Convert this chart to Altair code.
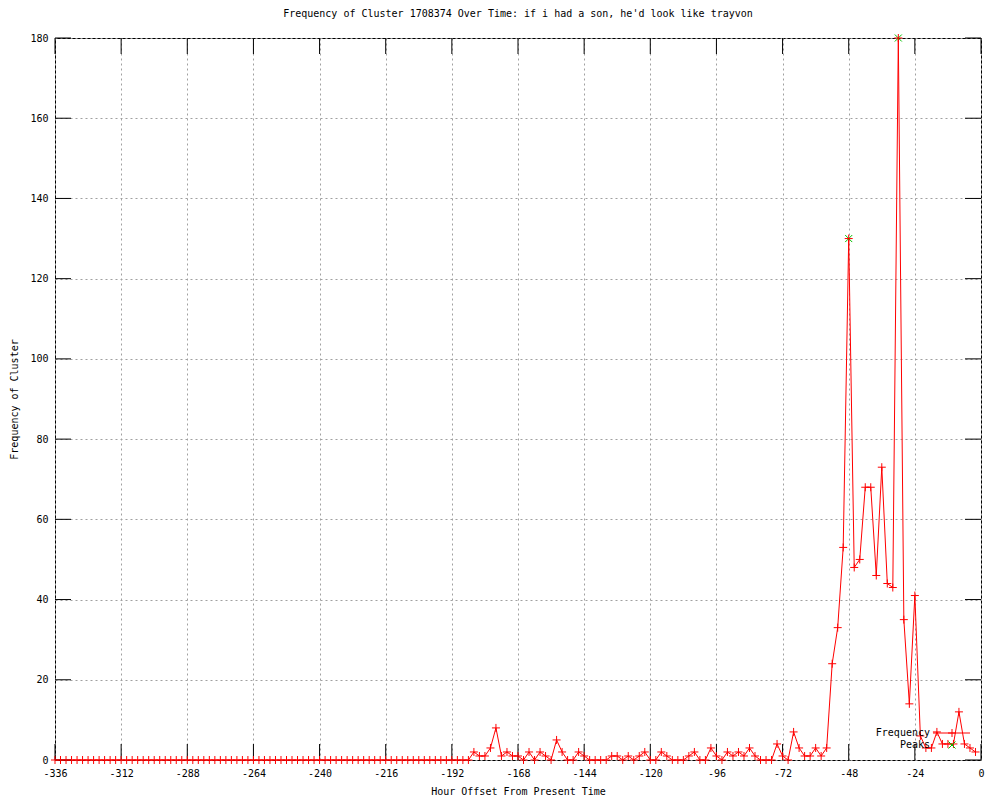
import altair as alt
import pandas as pd

# ---------------- data ----------------
hours = list(range(-336, 0, 2))  # hourly offsets, one sample every 2 hours
freq = (
    [0] * 76
    + [2, 1, 1, 3, 8, 1, 2, 1, 1, 0, 2, 0, 2, 1, 0, 5, 2, 0, 0, 2]
    + [1, 0, 0, 0, 0, 1, 1, 0, 1, 0, 1, 2, 0, 0, 2, 1, 0, 0, 0, 1]
    + [2, 0, 0, 3, 1, 0, 2, 1, 2, 1, 3, 1, 0, 0, 0, 4, 1, 0, 7, 3]
    + [1, 1, 3, 1, 3, 24, 33, 53, 130, 48, 50, 68, 68, 46, 73, 44, 43, 180, 35, 14]
    + [41, 6, 3, 3, 7, 4, 4, 4, 12, 4, 3, 2]
)
peak_hours = [-48, -30]
peak_values = [130, 180]
series_names = ["Frequency", "Peaks"]
series_colors = ["#ff0000", "#00c000"]
x_ticks = [-336, -312, -288, -264, -240, -216, -192, -168, -144, -120, -96, -72, -48, -24, 0]
y_ticks = [0, 20, 40, 60, 80, 100, 120, 140, 160, 180]

title_text = "Frequency of Cluster 1708374 Over Time: if i had a son, he'd look like trayvon"
x_title = "Hour Offset From Present Time"
y_title = "Frequency of Cluster"

# ---------------- layout ----------------
W, H = 926, 722
FONT = "DejaVu Sans Mono"
TICK = 16
# key (legend) placement, in plot-area pixels
KEY_TEXT_X = 875
KEY_LINE_X0, KEY_LINE_X1 = 878, 915
KEY_SYM_X = 897
KEY_ROW_Y = [695, 707]

freq_df = pd.DataFrame({"hour": hours, "freq": freq})
peak_df = pd.DataFrame({"hour": peak_hours, "freq": peak_values})
xt_df = pd.DataFrame({"hour": x_ticks})
yt_df = pd.DataFrame({"freq": y_ticks})
key_df = pd.DataFrame({"label": series_names})

x_scale = alt.Scale(domain=[-336, 0], nice=False, zero=False)
y_scale = alt.Scale(domain=[0, 180], nice=False, zero=False)

PLUS = "M-1,0H1M0,-1V1"
XMARK = "M-1,-1L1,1M-1,1L1,-1"

x_axis = alt.Axis(
    values=x_ticks, grid=True, ticks=False, domain=False,
    labelExpr="'' + datum.value", labelPadding=8, labelFlush=False,
    title=x_title, titlePadding=8,
)
y_axis = alt.Axis(
    values=y_ticks, grid=True, ticks=False, domain=False,
    labelExpr="'' + datum.value", labelPadding=7, labelFlush=False,
    title=y_title, titlePadding=10,
)
X = alt.X("hour:Q", scale=x_scale, axis=x_axis)
Y = alt.Y("freq:Q", scale=y_scale, axis=y_axis)

line = alt.Chart(freq_df).mark_line(color=series_colors[0], strokeWidth=1).encode(x=X, y=Y)
peak_pts = alt.Chart(peak_df).mark_point(
    shape=XMARK, size=49, filled=False, color=series_colors[1], strokeWidth=1, opacity=1
).encode(x=X, y=Y)
freq_pts = alt.Chart(freq_df).mark_point(
    shape=PLUS, size=64, filled=False, color=series_colors[0], strokeWidth=1, opacity=1
).encode(x=X, y=Y)

tick_mark = dict(color="black", strokeWidth=1)
bottom_ticks = alt.Chart(xt_df).mark_rule(**tick_mark).encode(x=X, y=alt.value(H), y2=alt.value(H - TICK))
top_ticks = alt.Chart(xt_df).mark_rule(**tick_mark).encode(x=X, y=alt.value(0), y2=alt.value(TICK))
left_ticks = alt.Chart(yt_df).mark_rule(**tick_mark).encode(y=Y, x=alt.value(0), x2=alt.value(TICK))
right_ticks = alt.Chart(yt_df).mark_rule(**tick_mark).encode(y=Y, x=alt.value(W), x2=alt.value(W - TICK))

# ---- key (gnuplot style: label on the left, sample on the right) ----
key_layers = []
for i, name in enumerate(series_names):
    row = key_df[key_df["label"] == name]
    key_layers.append(
        alt.Chart(row).mark_text(align="right", baseline="middle", font=FONT, fontSize=10, color="black")
        .encode(text="label:N", x=alt.value(KEY_TEXT_X), y=alt.value(KEY_ROW_Y[i]))
    )
key_layers.append(
    alt.Chart(key_df.iloc[:1]).mark_rule(color=series_colors[0], strokeWidth=1)
    .encode(x=alt.value(KEY_LINE_X0), x2=alt.value(KEY_LINE_X1), y=alt.value(KEY_ROW_Y[0]))
)
key_layers.append(
    alt.Chart(key_df.iloc[:1]).mark_point(shape=PLUS, size=64, filled=False, color=series_colors[0],
                                          strokeWidth=1, opacity=1)
    .encode(x=alt.value(KEY_SYM_X), y=alt.value(KEY_ROW_Y[0]))
)
key_layers.append(
    alt.Chart(key_df.iloc[1:]).mark_point(shape=XMARK, size=49, filled=False, color=series_colors[1],
                                          strokeWidth=1, opacity=1)
    .encode(x=alt.value(KEY_SYM_X), y=alt.value(KEY_ROW_Y[1]))
)

chart = (
    alt.layer(line, bottom_ticks, top_ticks, left_ticks, right_ticks, peak_pts, freq_pts, *key_layers)
    .properties(
        width=W, height=H,
        title=alt.TitleParams(title_text, font=FONT, fontSize=10, fontWeight="normal",
                              color="black", anchor="middle", offset=13),
        autosize=alt.AutoSizeParams(type="none"),
        padding={"left": 47, "top": 30, "right": 11, "bottom": 40},
        background="white",
    )
    .configure_view(stroke="black", strokeWidth=1)
    .configure_axis(
        gridColor="#a0a0a0", gridDash=[2, 3], gridWidth=1, gridOpacity=1,
        labelFont=FONT, labelFontSize=10, labelColor="black",
        titleFont=FONT, titleFontSize=10, titleFontWeight="normal", titleColor="black",
    )
)

chart.save("out.html", embed_options={"renderer": "svg", "actions": False})
